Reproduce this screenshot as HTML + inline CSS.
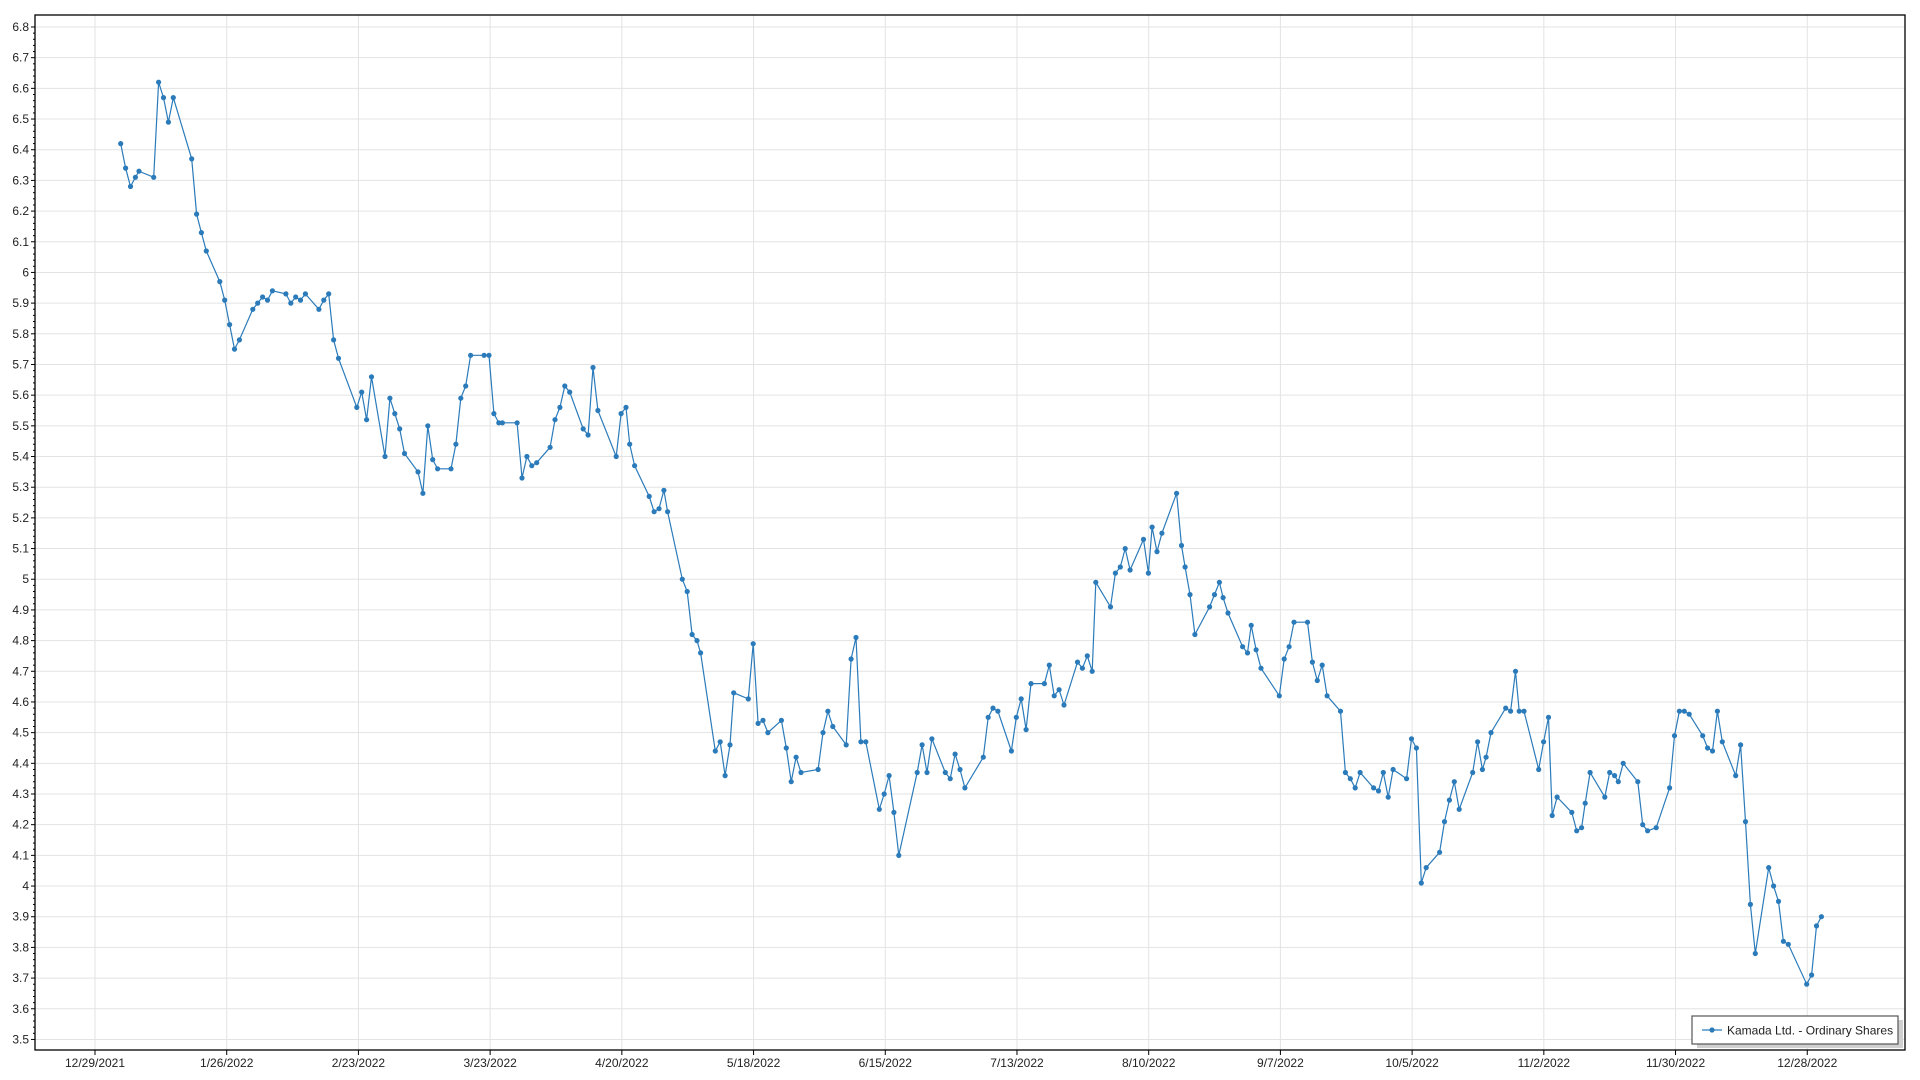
<!DOCTYPE html>
<html><head><meta charset="utf-8"><style>
html,body{margin:0;padding:0;background:#fff;}
svg{display:block;font-family:"Liberation Sans",sans-serif;}
</style></head><body>
<svg id="c" width="1920" height="1080" xmlns="http://www.w3.org/2000/svg"></svg>
<script>
const s=document.getElementById('c');
const L=35,T=15,R=1905,B=1050;
const yv=v=>27+(6.8-v)*306.8;
const xd=d=>95+d*4.704;
let h='';
for(let i=0;i<=33;i++){const v=3.5+i*0.1;const y=yv(v);
 h+=`<line x1="${L}" x2="${R}" y1="${y}" y2="${y}" stroke="#e3e3e3" stroke-width="1"/>`;
 h+=`<line x1="${L-4}" x2="${L}" y1="${y}" y2="${y}" stroke="#000"/>`;
 let t=(Math.round(v*10)/10).toString();
 h+=`<text x="${L-6}" y="${y+4}" font-size="12" text-anchor="end" fill="#222">${t}</text>`;
 if(i<33)for(let k=1;k<5;k++){const yy=yv(v+k*0.02);h+=`<line x1="${L-2}" x2="${L}" y1="${yy}" y2="${yy}" stroke="#000"/>`;}
}
const labs=['12/29/2021','1/26/2022','2/23/2022','3/23/2022','4/20/2022','5/18/2022','6/15/2022','7/13/2022','8/10/2022','9/7/2022','10/5/2022','11/2/2022','11/30/2022','12/28/2022'];
labs.forEach((l,i)=>{const x=xd(i*28);
 h+=`<line x1="${x}" x2="${x}" y1="${T}" y2="${B}" stroke="#e3e3e3"/>`;
 h+=`<line x1="${x}" x2="${x}" y1="${B}" y2="${B+5}" stroke="#000"/>`;
 h+=`<text x="${x}" y="${B+17}" font-size="12" text-anchor="middle" fill="#222">${l}</text>`;});
h+=`<rect x="${L}" y="${T}" width="${R-L}" height="${B-T}" fill="none" stroke="#000" stroke-width="1.3"/>`;
const d=[98,6.42,102,6.34,106,6.28,110,6.31,113,6.33,125,6.31,129,6.62,133,6.57,137,6.49,141,6.57,156,6.37,160,6.19,164,6.13,168,6.07,179,5.97,183,5.91,187,5.83,191,5.75,195,5.78,206,5.88,210,5.90,214,5.92,218,5.91,222,5.94,233,5.93,237,5.90,241,5.92,245,5.91,249,5.93,260,5.88,264,5.91,268,5.93,272,5.78,276,5.72,291,5.56,295,5.61,299,5.52,303,5.66,314,5.40,318,5.59,322,5.54,326,5.49,330,5.41,341,5.35,345,5.28,349,5.50,353,5.39,357,5.36,368,5.36,372,5.44,376,5.59,380,5.63,384,5.73,395,5.73,399,5.73,403,5.54,407,5.51,410,5.51,422,5.51,426,5.33,430,5.40,434,5.37,438,5.38,449,5.43,453,5.52,457,5.56,461,5.63,465,5.61,476,5.49,480,5.47,484,5.69,488,5.55,503,5.40,507,5.54,511,5.56,514,5.44,518,5.37,530,5.27,534,5.22,538,5.23,542,5.29,545,5.22,557,5.00,561,4.96,565,4.82,569,4.80,572,4.76,584,4.44,588,4.47,592,4.36,596,4.46,599,4.63,611,4.61,615,4.79,619,4.53,623,4.54,627,4.50,638,4.54,642,4.45,646,4.34,650,4.42,654,4.37,668,4.38,672,4.50,676,4.57,680,4.52,691,4.46,695,4.74,699,4.81,703,4.47,707,4.47,718,4.25,722,4.30,726,4.36,730,4.24,734,4.10,749,4.37,753,4.46,757,4.37,761,4.48,772,4.37,776,4.35,780,4.43,784,4.38,788,4.32,803,4.42,807,4.55,811,4.58,815,4.57,826,4.44,830,4.55,834,4.61,838,4.51,842,4.66,853,4.66,857,4.72,861,4.62,865,4.64,869,4.59,880,4.73,884,4.71,888,4.75,892,4.70,895,4.99,907,4.91,911,5.02,915,5.04,919,5.10,923,5.03,934,5.13,938,5.02,941,5.17,945,5.09,949,5.15,961,5.28,965,5.11,968,5.04,972,4.95,976,4.82,988,4.91,992,4.95,996,4.99,999,4.94,1003,4.89,1015,4.78,1019,4.76,1022,4.85,1026,4.77,1030,4.71,1045,4.62,1049,4.74,1053,4.78,1057,4.86,1068,4.86,1072,4.73,1076,4.67,1080,4.72,1084,4.62,1095,4.57,1099,4.37,1103,4.35,1107,4.32,1111,4.37,1122,4.32,1126,4.31,1130,4.37,1134,4.29,1138,4.38,1149,4.35,1153,4.48,1157,4.45,1161,4.01,1165,4.06,1176,4.11,1180,4.21,1184,4.28,1188,4.34,1192,4.25,1203,4.37,1207,4.47,1211,4.38,1214,4.42,1218,4.50,1230,4.58,1234,4.57,1238,4.70,1241,4.57,1245,4.57,1257,4.38,1261,4.47,1265,4.55,1268,4.23,1272,4.29,1284,4.24,1288,4.18,1292,4.19,1295,4.27,1299,4.37,1311,4.29,1315,4.37,1319,4.36,1322,4.34,1326,4.40,1338,4.34,1342,4.20,1346,4.18,1353,4.19,1364,4.32,1368,4.49,1372,4.57,1376,4.57,1380,4.56,1391,4.49,1395,4.45,1399,4.44,1403,4.57,1407,4.47,1418,4.36,1422,4.46,1426,4.21,1430,3.94,1434,3.78,1445,4.06,1449,4.00,1453,3.95,1457,3.82,1461,3.81,1476,3.68,1480,3.71,1484,3.87,1488,3.90];
let pts=[];
for(let i=0;i<d.length;i+=2){pts.push([95+(d[i]-77)*1.2235,yv(d[i+1])]);}
h+=`<polyline fill="none" stroke="#2b7bba" stroke-width="1.2" points="${pts.map(p=>p[0].toFixed(1)+','+p[1].toFixed(1)).join(' ')}"/>`;
pts.forEach(p=>h+=`<circle cx="${p[0].toFixed(1)}" cy="${p[1].toFixed(1)}" r="2.6" fill="#2b7bba"/>`);
h+=`<rect x="1697" y="1020" width="206" height="28" fill="#d0d0d0"/>`;
h+=`<rect x="1692" y="1016" width="206" height="28" fill="#fff" stroke="#555" stroke-width="1.2"/>`;
h+=`<line x1="1702" x2="1722" y1="1030" y2="1030" stroke="#7aaed6" stroke-width="2"/><circle cx="1712" cy="1030" r="2.6" fill="#2b7bba"/>`;
h+=`<text x="1727" y="1034.5" font-size="12" fill="#222">Kamada Ltd. - Ordinary Shares</text>`;
s.innerHTML=h;
</script>
</body></html>
